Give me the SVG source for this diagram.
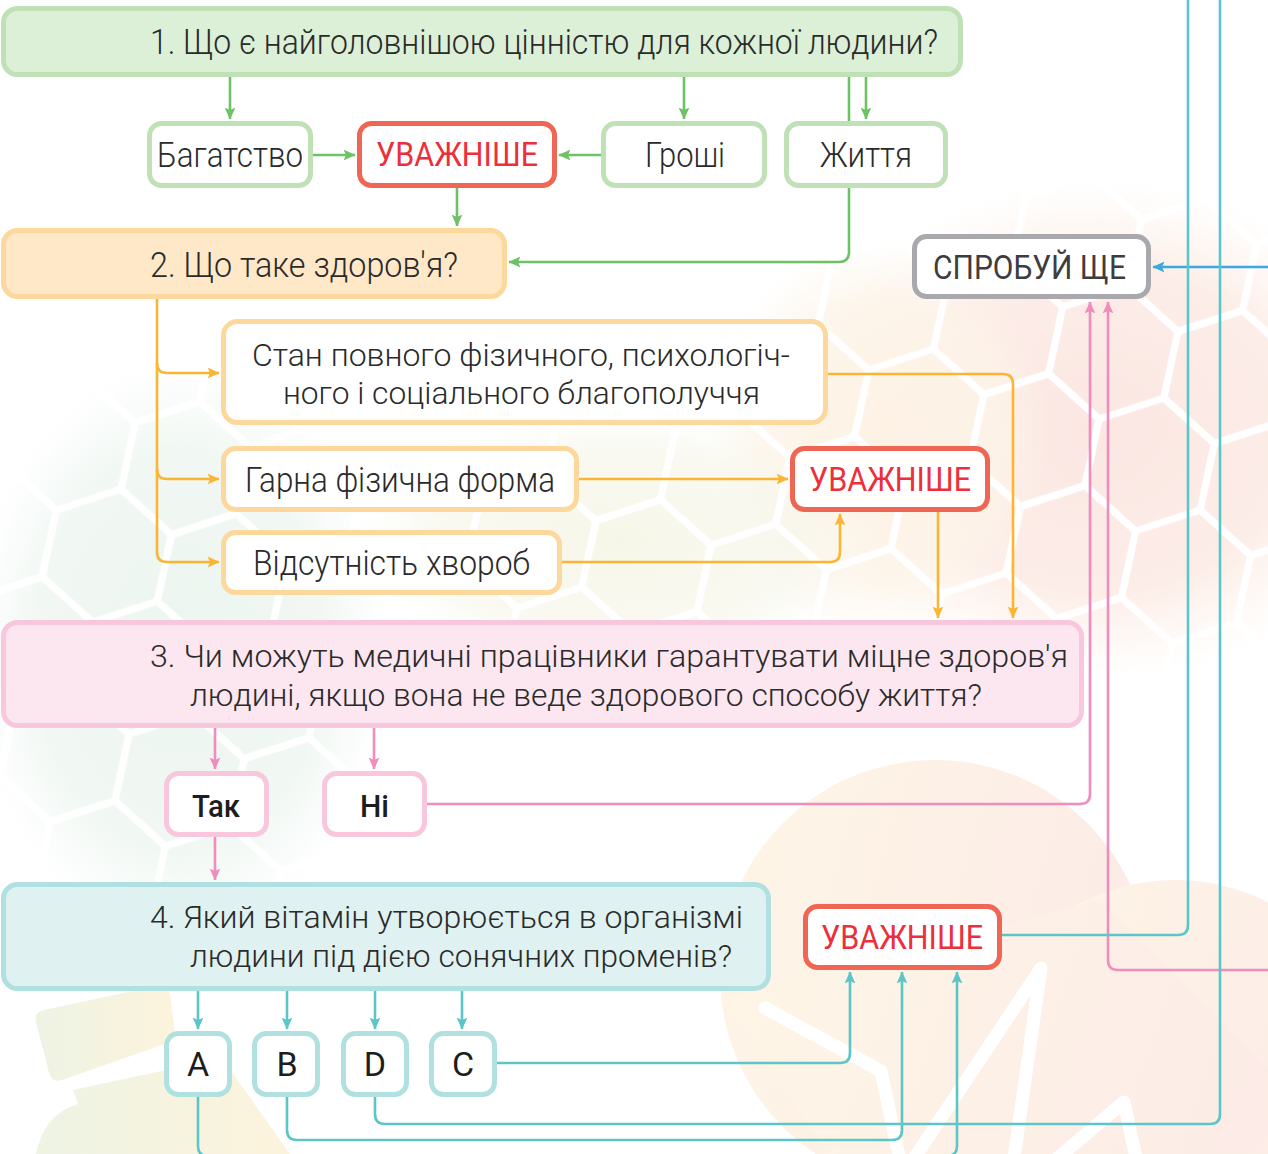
<svg xmlns="http://www.w3.org/2000/svg" xmlns:xlink="http://www.w3.org/1999/xlink" width="1268" height="1154" viewBox="0 0 1268 1154">
<style>
.box{stroke-width:5}
.n1{fill:#dcefd7;stroke:#c0e1b6}
.ng{fill:#fff;stroke:#c0e1b6}
.n2{fill:#fee8c8;stroke:#fdd89c}
.ny{fill:#fff;stroke:#fdd89c}
.n3{fill:#fce6ef;stroke:#f8c6dd}
.np{fill:#fff;stroke:#f8c6dd}
.n4{fill:#dff1f0;stroke:#b1e0e1}
.nt{fill:#fff;stroke:#b1e0e1}
.nr{fill:#fff;stroke:#f06654}
.nx{fill:#fff;stroke:#a9a9ad}
.t{font-family:Roboto,"Liberation Sans",sans-serif;font-weight:300;font-size:35px;fill:#2a2a2a}
.t2{font-size:32px}
.tr{font-family:Roboto,"Liberation Sans",sans-serif;font-weight:400;font-size:33px;fill:#ec2f3a}
.tg{font-family:Roboto,"Liberation Sans",sans-serif;font-weight:400;font-size:33px;fill:#3d3d3f}
.tb{font-family:Roboto,"Liberation Sans",sans-serif;font-weight:500;font-size:31px;fill:#1d1d1d}
.tl{font-family:Roboto,"Liberation Sans",sans-serif;font-weight:400;font-size:34px;fill:#1d1d1d;text-anchor:middle}
.c{fill:none;stroke-width:2.6;stroke-linecap:butt;stroke-linejoin:round}
.cg{stroke:#6dc265}
.co{stroke:#fbb535}
.cp{stroke:#f08dbd}
.cb{stroke:#3aa9df}
.ct{stroke:#5bc5c8}
</style>
<defs>
<marker id="ag" viewBox="0 0 10 10" refX="9.5" refY="5" markerWidth="12" markerHeight="12" markerUnits="userSpaceOnUse" orient="auto"><path d="M0,0.5 L10,5 L0,9.5 L2,5 Z" fill="#6dc265"/></marker>
<marker id="ao" viewBox="0 0 10 10" refX="9.5" refY="5" markerWidth="12" markerHeight="12" markerUnits="userSpaceOnUse" orient="auto"><path d="M0,0.5 L10,5 L0,9.5 L2,5 Z" fill="#fbb535"/></marker>
<marker id="ap" viewBox="0 0 10 10" refX="9.5" refY="5" markerWidth="12" markerHeight="12" markerUnits="userSpaceOnUse" orient="auto"><path d="M0,0.5 L10,5 L0,9.5 L2,5 Z" fill="#f08dbd"/></marker>
<marker id="ab" viewBox="0 0 10 10" refX="9.5" refY="5" markerWidth="12" markerHeight="12" markerUnits="userSpaceOnUse" orient="auto"><path d="M0,0.5 L10,5 L0,9.5 L2,5 Z" fill="#3aa9df"/></marker>
<marker id="at" viewBox="0 0 10 10" refX="9.5" refY="5" markerWidth="12" markerHeight="12" markerUnits="userSpaceOnUse" orient="auto"><path d="M0,0.5 L10,5 L0,9.5 L2,5 Z" fill="#5bc5c8"/></marker>
<path id="hx" d="M68,0 L34,58.9 L-34,58.9 L-68,0 L-34,-58.9 L34,-58.9 Z"/>
<pattern id="hexgrid" patternUnits="userSpaceOnUse" width="204" height="117.8" patternTransform="translate(40,20) rotate(-18)">
<g fill="none" stroke="#fff" stroke-width="7">
<use href="#hx" x="0" y="0"/><use href="#hx" x="204" y="0"/><use href="#hx" x="0" y="117.8"/><use href="#hx" x="204" y="117.8"/><use href="#hx" x="102" y="58.9"/>
</g>
</pattern>
<radialGradient id="gPink"><stop offset="0" stop-color="#fbe6e2"/><stop offset="0.65" stop-color="#fcebe5" stop-opacity="0.9"/><stop offset="1" stop-color="#fdf2ea" stop-opacity="0"/></radialGradient>
<radialGradient id="gPeach"><stop offset="0" stop-color="#fdf2e4"/><stop offset="0.7" stop-color="#fdf4e8" stop-opacity="0.8"/><stop offset="1" stop-color="#fdf6ec" stop-opacity="0"/></radialGradient>
<radialGradient id="gGreen"><stop offset="0" stop-color="#ecf5ef"/><stop offset="0.7" stop-color="#eef6f1" stop-opacity="0.8"/><stop offset="1" stop-color="#f2f8f4" stop-opacity="0"/></radialGradient>
<radialGradient id="gMid"><stop offset="0" stop-color="#f6f6e8"/><stop offset="0.7" stop-color="#f7f7ec" stop-opacity="0.7"/><stop offset="1" stop-color="#f8f8ee" stop-opacity="0"/></radialGradient>
<linearGradient id="gHeart" x1="0" y1="0" x2="1" y2="0.3"><stop offset="0" stop-color="#fef6e6"/><stop offset="1" stop-color="#fcebe6"/></linearGradient>
<linearGradient id="gLeaf" x1="0" y1="0" x2="1" y2="0"><stop offset="0" stop-color="#eef3e4"/><stop offset="1" stop-color="#fdf3dc"/></linearGradient>
</defs>

<g id="background">
<rect width="1268" height="1154" fill="#fff"/>
<ellipse cx="1100" cy="430" rx="300" ry="250" fill="url(#gPink)"/>
<ellipse cx="880" cy="440" rx="170" ry="200" fill="url(#gPeach)"/>
<ellipse cx="620" cy="540" rx="260" ry="130" fill="url(#gMid)"/>
<ellipse cx="180" cy="650" rx="210" ry="290" fill="url(#gGreen)"/>
<rect width="1268" height="1154" fill="url(#hexgrid)"/>
<g fill="url(#gHeart)">
<circle cx="935" cy="975" r="215"/>
<circle cx="1175" cy="1085" r="205"/>
<path d="M722 1000 L1000 1400 L1300 1100 L1100 900 Z"/>
</g>
<polyline points="765,1008 881,1071 903,1175 1041,968 1008,1200 1124,1102 1145,1200" fill="none" stroke="#fff" stroke-width="13" stroke-linejoin="round" stroke-linecap="round"/>
<path d="M44 1010 L156 986 Q166 984 170 994 L176 1040 L62 1080 Q52 1083 49 1073 L36 1022 Q34 1012 44 1010 Z" fill="url(#gLeaf)"/>
<path d="M73 1090 L222 1058 L290 1154 L36 1154 Q44 1114 78 1104 Z" fill="url(#gLeaf)"/>
</g>

<g id="connectors">
<path class="c cg" d="M230 75 V119" marker-end="url(#ag)"/>
<path class="c cg" d="M684 75 V119" marker-end="url(#ag)"/>
<path class="c cg" d="M866 75 V119" marker-end="url(#ag)"/>
<path class="c cg" d="M849 75 V122"/>
<path class="c cg" d="M312 155 H355" marker-end="url(#ag)"/>
<path class="c cg" d="M602 155 H559" marker-end="url(#ag)"/>
<path class="c cg" d="M457 187 V226" marker-end="url(#ag)"/>
<path class="c cg" d="M849 187 V252 Q849 262 839 262 H509" marker-end="url(#ag)"/>

<path class="c co" d="M157 298 V552 Q157 562 167 562 H219" marker-end="url(#ao)"/>
<path class="c co" d="M157 363 Q157 373 167 373 H219" marker-end="url(#ao)"/>
<path class="c co" d="M157 469 Q157 479 167 479 H219" marker-end="url(#ao)"/>
<path class="c co" d="M578 479 H788" marker-end="url(#ao)"/>
<path class="c co" d="M561 562 H830 Q840 562 840 552 V514" marker-end="url(#ao)"/>
<path class="c co" d="M938 511 V618" marker-end="url(#ao)"/>
<path class="c co" d="M827 374 H1003 Q1013 374 1013 384 V618" marker-end="url(#ao)"/>

<path class="c cp" d="M215 727 V769" marker-end="url(#ap)"/>
<path class="c cp" d="M374 727 V769" marker-end="url(#ap)"/>
<path class="c cp" d="M215 836 V880" marker-end="url(#ap)"/>
<path class="c cp" d="M426 804 H1080 Q1090 804 1090 794 V302" marker-end="url(#ap)"/>
<path class="c cp" d="M1270 970 H1118 Q1108 970 1108 960 V302" marker-end="url(#ap)"/>

<path class="c cb" d="M1270 267 H1153" marker-end="url(#ab)"/>

<path class="c ct" d="M198 990 V1029" marker-end="url(#at)"/>
<path class="c ct" d="M287 990 V1029" marker-end="url(#at)"/>
<path class="c ct" d="M375 990 V1029" marker-end="url(#at)"/>
<path class="c ct" d="M462 990 V1029" marker-end="url(#at)"/>
<path class="c ct" d="M496 1063 H840 Q850 1063 850 1053 V972" marker-end="url(#at)"/>
<path class="c ct" d="M287 1096 V1130 Q287 1140 297 1140 H892 Q902 1140 902 1130 V972" marker-end="url(#at)"/>
<path class="c ct" d="M375 1096 V1114 Q375 1124 385 1124 H1210 Q1220 1124 1220 1114 V-2"/>
<path class="c ct" d="M198 1096 V1146 Q198 1156 208 1156 H947 Q957 1156 957 1146 V972" marker-end="url(#at)"/>
<path class="c ct" d="M1001 935 H1178 Q1188 935 1188 925 V-2"/>
</g>

<g id="q1"><rect class="box n1" x="3.5" y="8.5" width="957" height="66" rx="14"/>
<text class="t" x="150" y="54" textLength="788" lengthAdjust="spacingAndGlyphs">1.  Що є найголовнішою цінністю для кожної людини?</text></g>
<g id="bagatstvo"><rect class="box ng" x="149.5" y="123.5" width="161" height="62" rx="12"/>
<text class="t" x="157" y="167" textLength="146" lengthAdjust="spacingAndGlyphs">Багатство</text></g>
<g id="uvazh1"><rect class="box nr" x="359.5" y="123.5" width="195" height="62" rx="12"/>
<text class="tr" x="376" y="166" textLength="162" lengthAdjust="spacingAndGlyphs">УВАЖНІШЕ</text></g>
<g id="groshi"><rect class="box ng" x="603.5" y="123.5" width="161" height="62" rx="12"/>
<text class="t" x="645" y="167" textLength="80" lengthAdjust="spacingAndGlyphs">Гроші</text></g>
<g id="zhyttia"><rect class="box ng" x="786.5" y="123.5" width="159" height="62" rx="12"/>
<text class="t" x="820" y="167" textLength="92" lengthAdjust="spacingAndGlyphs">Життя</text></g>

<g id="q2"><rect class="box n2" x="3.5" y="230.5" width="501" height="66" rx="14"/>
<text class="t" x="150" y="277" textLength="308" lengthAdjust="spacingAndGlyphs">2.  Що таке здоров'я?</text></g>
<g id="sprobuy"><rect class="box nx" x="914.5" y="236.5" width="234" height="60" rx="12"/>
<text class="tg" x="933" y="279" textLength="193" lengthAdjust="spacingAndGlyphs">СПРОБУЙ ЩЕ</text></g>
<g id="stan"><rect class="box ny" x="223.5" y="321.5" width="602" height="101" rx="14"/>
<text class="t t2" x="252" y="366" textLength="538" lengthAdjust="spacingAndGlyphs">Стан повного фізичного, психологіч-</text>
<text class="t t2" x="283" y="404" textLength="477" lengthAdjust="spacingAndGlyphs">ного і соціального благополуччя</text></g>
<g id="harna"><rect class="box ny" x="223.5" y="448.5" width="353" height="61" rx="12"/>
<text class="t" x="245" y="492" textLength="310" lengthAdjust="spacingAndGlyphs">Гарна фізична форма</text></g>
<g id="vidsutnist"><rect class="box ny" x="223.5" y="532.5" width="336" height="60" rx="12"/>
<text class="t" x="253" y="575" textLength="277" lengthAdjust="spacingAndGlyphs">Відсутність хвороб</text></g>
<g id="uvazh2"><rect class="box nr" x="792.5" y="448.5" width="195" height="61" rx="12"/>
<text class="tr" x="809" y="491" textLength="162" lengthAdjust="spacingAndGlyphs">УВАЖНІШЕ</text></g>

<g id="q3"><rect class="box n3" x="3.5" y="622.5" width="1078" height="103" rx="14"/>
<text class="t t2" x="150" y="667" textLength="918" lengthAdjust="spacingAndGlyphs">3.  Чи можуть медичні працівники гарантувати міцне здоров'я</text>
<text class="t t2" x="190" y="706" textLength="792" lengthAdjust="spacingAndGlyphs">людині, якщо вона не веде здорового способу життя?</text></g>
<g id="tak"><rect class="box np" x="166.5" y="773.5" width="100" height="61" rx="12"/>
<text class="tb" x="192" y="817" textLength="48" lengthAdjust="spacingAndGlyphs">Так</text></g>
<g id="ni"><rect class="box np" x="324.5" y="773.5" width="100" height="61" rx="12"/>
<text class="tb" x="360" y="817" textLength="29" lengthAdjust="spacingAndGlyphs">Ні</text></g>

<g id="q4"><rect class="box n4" x="3.5" y="884.5" width="765" height="104" rx="14"/>
<text class="t t2" x="150" y="928" textLength="593" lengthAdjust="spacingAndGlyphs">4.  Який вітамін утворюється в організмі</text>
<text class="t t2" x="190" y="967" textLength="542" lengthAdjust="spacingAndGlyphs">людини під дією сонячних променів?</text></g>
<g id="uvazh3"><rect class="box nr" x="805.5" y="906.5" width="194" height="61" rx="12"/>
<text class="tr" x="821" y="949" textLength="162" lengthAdjust="spacingAndGlyphs">УВАЖНІШЕ</text></g>
<g id="optA"><rect class="box nt" x="166.5" y="1033.5" width="63" height="61" rx="12"/><text class="tl" x="198" y="1076">A</text></g>
<g id="optB"><rect class="box nt" x="254.5" y="1033.5" width="63" height="61" rx="12"/><text class="tl" x="287" y="1076">B</text></g>
<g id="optD"><rect class="box nt" x="343.5" y="1033.5" width="63" height="61" rx="12"/><text class="tl" x="375" y="1076">D</text></g>
<g id="optC"><rect class="box nt" x="431.5" y="1033.5" width="63" height="61" rx="12"/><text class="tl" x="463" y="1076">C</text></g>
</svg>
